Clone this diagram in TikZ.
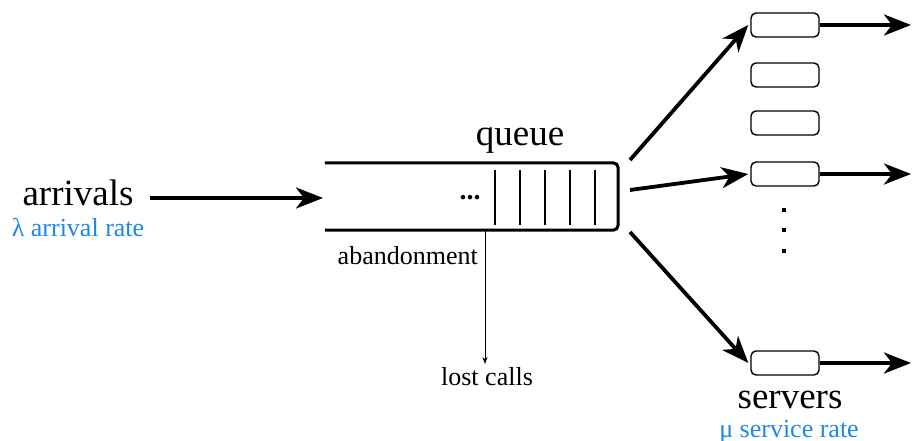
\documentclass[tikz,border=0pt]{standalone}
\usepackage{fontspec}
\setmainfont{Liberation Serif}
\usepackage{tikz}
\usetikzlibrary{arrows.meta}
\definecolor{ratecolor}{RGB}{30,136,229}
\tikzstyle{server} = [rectangle, draw, line width=1.4pt, fill=white, rounded corners=5pt,
                 minimum width=68pt, minimum height=24pt]
\tikzstyle{flow} = [draw, line width=3.8pt, -{Stealth[length=27pt,width=21pt,inset=8pt]}]
\tikzstyle{lost} = [line width=0.8pt, -{Stealth[length=7pt,width=5pt]}]
\tikzstyle{big} = [font=\fontsize{37}{40}\selectfont, inner sep=0pt, anchor=base]
\tikzstyle{small} = [font=\fontsize{26}{28}\selectfont, inner sep=0pt, anchor=base]

\begin{document}
\begin{tikzpicture}[x=1pt, y=-1pt]
\useasboundingbox (0,0) rectangle (912,441);

\node [big] at (78,205) (arrivals) {arrivals};
\node [small, text=ratecolor] at (78,236) (lambda) {λ arrival rate};

%queue
\node [minimum width=293pt, minimum height=67pt, inner sep=0pt] at (471.5,196.5) (queue) {};
\draw [line width=3pt, rounded corners=5pt] (queue.north west) -- (queue.north east)
	-- (queue.south east) -- (queue.south west);
\foreach \x in {495, 520, 545, 570, 595}
	\draw [line width=2.8pt] (\x,170) -- (\x,225);
\node [small, font=\fontsize{28}{30}\selectfont\bfseries] at (470,199) (dots) {...};
\node [big] at (520,145) (qlabel) {queue};

\coordinate (in) at (323,198);
\path [flow] (150,198) -- (in);

%servers
\foreach \n/\y in {1/25, 2/75, 3/123, 4/174, 5/363}
	\node [server] at (785,\y) (s\n) {};
\foreach \y in {210, 230, 251}
	\fill (782,\y-2) rectangle (786,\y+2);
\node [big] at (790,408) (slabel) {servers};
\node [small, text=ratecolor] at (789,437) (mu) {μ service rate};

\coordinate (q1) at (630,160);
\coordinate (q2) at (630,190);
\coordinate (q3) at (630,232);
\path [flow] (q1) -- ([xshift=-2pt]s1.west);
\path [flow] (q2) -- ([xshift=-2pt]s4.west);
\path [flow] (q3) -- ([xshift=-2pt]s5.west);

\coordinate (o1) at (911,25);
\coordinate (o4) at (911,174);
\coordinate (o5) at (911,363);
\path [flow] (s1.east) -- (o1);
\path [flow] (s4.east) -- (o4);
\path [flow] (s5.east) -- (o5);

%abandonment
\node [small, anchor=base east] at (478,264) (abandon) {abandonment};
\node [small] at (487,385) (lostcalls) {lost calls};
\coordinate (a) at (485,231);
\draw [lost] (a) -- (485,364);

\end{tikzpicture}
\end{document}
